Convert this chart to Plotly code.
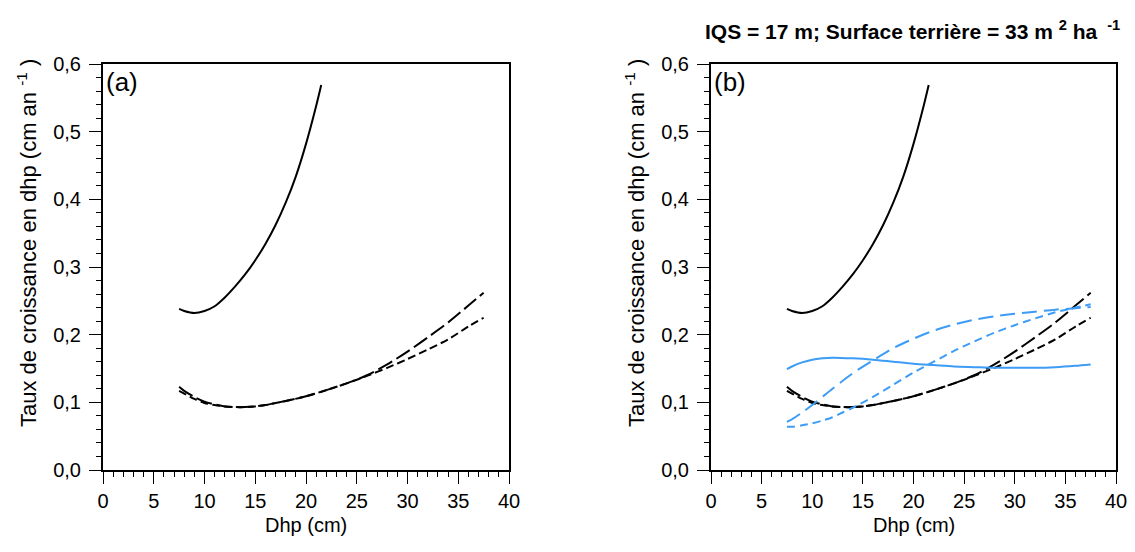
# -*- coding: utf-8 -*-
# Taux de croissance en dhp vs Dhp, panels (a) and (b)

import plotly.graph_objects as go

# Data
# black solid
x_solid = [7.5, 8, 9, 10, 11, 12, 13, 14, 15, 16, 17, 18, 19, 20, 21, 21.5]
y_solid = [0.238, 0.235, 0.232, 0.235, 0.242, 0.255, 0.271, 0.289, 0.310, 0.334,
           0.362, 0.395, 0.434, 0.482, 0.538, 0.569]

# black long dash / short dash
x_dash = [7.5, 8, 9, 10, 11, 12, 13, 14, 15, 16, 17, 18, 20, 22, 24, 26, 28, 30, 32, 34, 36, 37.5]
y_longdash = [0.123, 0.117, 0.108, 0.101, 0.097, 0.094, 0.093, 0.093, 0.094, 0.096, 0.099,
              0.102, 0.109, 0.118, 0.128, 0.140, 0.156, 0.175, 0.196, 0.218, 0.243, 0.262]
y_shortdash = [0.117, 0.113, 0.105, 0.099, 0.096, 0.094, 0.093, 0.093, 0.094, 0.096, 0.099,
               0.102, 0.109, 0.118, 0.128, 0.139, 0.151, 0.164, 0.178, 0.193, 0.212, 0.225]

# blue curves (panel b only)
x_blue_solid = [7.5, 8, 9, 10, 11, 12, 14, 16, 18, 20, 22, 24, 26, 28, 30, 32, 34, 36, 37.5]
y_blue_solid = [0.149, 0.153, 0.159, 0.163, 0.165, 0.166, 0.165, 0.163, 0.160, 0.157, 0.155,
                0.153, 0.152, 0.151, 0.151, 0.151, 0.152, 0.154, 0.156]

x_blue_long = [7.5, 8, 9, 10, 12, 14, 16, 18, 20, 22, 24, 26, 28, 30, 32, 34, 36, 37.5]
y_blue_long = [0.071, 0.075, 0.085, 0.096, 0.120, 0.143, 0.162, 0.180, 0.194, 0.206, 0.215,
               0.222, 0.227, 0.231, 0.234, 0.237, 0.239, 0.241]

x_blue_short = [7.5, 8, 9, 10, 11, 12, 13, 14, 16, 18, 20, 22, 24, 26, 28, 30, 32, 34, 36, 37.5]
y_blue_short = [0.064, 0.064, 0.066, 0.069, 0.073, 0.078, 0.085, 0.092, 0.108, 0.126, 0.144,
                0.160, 0.176, 0.190, 0.203, 0.214, 0.224, 0.233, 0.240, 0.245]

BLUE = "#3d9cf5"
FONT = "Liberation Sans, Arial, sans-serif"

fig = go.Figure()

def add_black(xa, ya):
    fig.add_trace(go.Scatter(x=x_solid, y=y_solid, mode="lines", xaxis=xa, yaxis=ya,
                             line=dict(color="black", width=2, shape="spline", smoothing=0.8)))
    fig.add_trace(go.Scatter(x=x_dash, y=y_longdash, mode="lines", xaxis=xa, yaxis=ya,
                             line=dict(color="black", width=2, dash="16px,5px", shape="spline", smoothing=0.8)))
    fig.add_trace(go.Scatter(x=x_dash, y=y_shortdash, mode="lines", xaxis=xa, yaxis=ya,
                             line=dict(color="black", width=2, dash="8px,4px", shape="spline", smoothing=0.8)))

add_black("x", "y")
add_black("x2", "y2")

fig.add_trace(go.Scatter(x=x_blue_solid, y=y_blue_solid, mode="lines", xaxis="x2", yaxis="y2",
                         line=dict(color=BLUE, width=2, shape="spline", smoothing=0.8)))
fig.add_trace(go.Scatter(x=x_blue_long, y=y_blue_long, mode="lines", xaxis="x2", yaxis="y2",
                         line=dict(color=BLUE, width=2, dash="15px,7px", shape="spline", smoothing=0.8)))
fig.add_trace(go.Scatter(x=x_blue_short, y=y_blue_short, mode="lines", xaxis="x2", yaxis="y2",
                         line=dict(color=BLUE, width=2, dash="8px,5px", shape="spline", smoothing=0.8)))

W, H = 1135, 552
OFF = 8  # page body margin

def px(v):
    return (v - OFF) / W

def py(v):
    return 1 - (v - OFF) / H

dom_a = [px(103), px(509)]
dom_b = [px(711), px(1116)]
dom_y = [py(470), py(64)]

xcommon = dict(range=[0, 40], dtick=5, ticks="outside", ticklen=12, tickwidth=1,
               showline=True, linewidth=2, linecolor="black", mirror=True,
               showgrid=False, zeroline=False, automargin=False, ticklabelstandoff=0,
               minor=dict(dtick=1, ticks="outside", ticklen=5, tickwidth=1, tickcolor="black"),
               tickcolor="black", tickfont=dict(size=20, color="black"))
ycommon = dict(range=[0, 0.6], dtick=0.1, tickformat=".1f", ticks="outside", ticklen=12, tickwidth=1,
               showline=True, linewidth=2, linecolor="black", mirror=True,
               showgrid=False, zeroline=False, automargin=False, ticklabelstandoff=4,
               minor=dict(dtick=0.02, ticks="outside", ticklen=5, tickwidth=1, tickcolor="black"),
               tickcolor="black", tickfont=dict(size=20, color="black"))

fig.update_layout(
    width=W, height=H,
    margin=dict(l=0, r=0, t=0, b=0),
    paper_bgcolor="white", plot_bgcolor="white",
    showlegend=False,
    separators=",.",
    font=dict(family=FONT, color="black"),
    xaxis=dict(domain=dom_a, anchor="y", **xcommon),
    yaxis=dict(domain=dom_y, anchor="x", **ycommon),
    xaxis2=dict(domain=dom_b, anchor="y2", **xcommon),
    yaxis2=dict(domain=dom_y, anchor="x2", **ycommon),
)

ytitle = "Taux de croissance en dhp (cm an <sup>-1</sup> )"
for cx, lab, xc in [(27, "(a)", 306), (635, "(b)", 914)]:
    fig.add_annotation(text=ytitle, xref="paper", yref="paper", x=px(cx), y=py(243),
                       xanchor="center", yanchor="middle", textangle=-90, showarrow=False,
                       font=dict(size=22, color="black"))
    fig.add_annotation(text="Dhp (cm)", xref="paper", yref="paper", x=px(xc), y=py(525),
                       xanchor="center", yanchor="middle", showarrow=False,
                       font=dict(size=20, color="black"))
    fig.add_annotation(text=lab, xref="paper", yref="paper", x=px(cx + 77), y=py(82),
                       xanchor="left", yanchor="middle", showarrow=False,
                       font=dict(size=26, color="black"))

fig.add_annotation(text="<b>IQS = 17 m; Surface terrière = 33 m <sup>2</sup> ha <sup> -1</sup></b>",
                   xref="paper", yref="paper", x=px(912), y=py(30),
                   xanchor="center", yanchor="middle", showarrow=False,
                   font=dict(size=21, color="black"))

fig.write_html("out.html")
